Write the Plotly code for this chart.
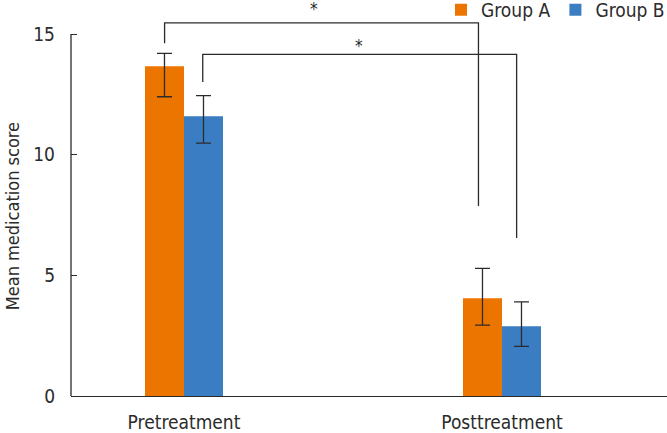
import plotly.graph_objects as go

categories = ["Pretreatment", "Posttreatment"]
group_a = [13.66, 4.05]
group_a_plus = [0.54, 1.24]
group_a_minus = [1.26, 1.11]
group_b = [11.59, 2.89]
group_b_plus = [0.86, 1.01]
group_b_minus = [1.11, 0.83]
y_ticks = [0, 5, 10, 15]
y_title = "Mean medication score"

# significance brackets: x_left, x_right, top y, left leg bottom, right leg bottom, star x, star y
brackets = [
    (-0.061, 0.926, 15.46, 14.62, 7.87, 0.409, 16.04),
    (0.059, 1.046, 14.16, 13.01, 6.55, 0.550, 14.50),
]

FONT = "DejaVu Sans Condensed, sans-serif"
INK = "#2b2b2b"
FS = 19

fig = go.Figure()
fig.add_trace(go.Bar(
    name="Group A", x=categories, y=group_a, marker_color="#ec7500", marker_line_width=0,
    error_y=dict(type="data", symmetric=False, array=group_a_plus, arrayminus=group_a_minus,
                 color=INK, thickness=1.3, width=7.5),
))
fig.add_trace(go.Bar(
    name="Group B", x=categories, y=group_b, marker_color="#3a7dc3", marker_line_width=0,
    error_y=dict(type="data", symmetric=False, array=group_b_plus, arrayminus=group_b_minus,
                 color=INK, thickness=1.3, width=7.5),
))

shapes = [dict(type="line", xref="paper", yref="y", x0=0, x1=0, y0=0, y1=15,
               line=dict(color=INK, width=1.3))]
annotations = [dict(x=0, xref="paper", xshift=-59, y=7.45, yref="y", text=y_title,
                    textangle=-90, showarrow=False, xanchor="center", yanchor="middle",
                    font=dict(size=18, color=INK, family=FONT))]
for xl, xr, yt, yl, yr, xs, ys in brackets:
    shapes.append(dict(type="path", xref="x", yref="y",
                       path=f"M {xl},{yl} L {xl},{yt} L {xr},{yt} L {xr},{yr}",
                       line=dict(color=INK, width=1.3)))
    annotations.append(dict(x=xs, y=ys, xref="x", yref="y", text="*", showarrow=False,
                            yanchor="middle", font=dict(size=17, color=INK, family=FONT)))

fig.update_layout(
    width=667, height=433,
    margin=dict(l=71, r=0, t=0, b=37, autoexpand=False),
    paper_bgcolor="white", plot_bgcolor="white",
    barmode="group", bargap=0.7547, bargroupgap=0,
    font=dict(family=FONT, size=FS, color=INK),
    showlegend=True,
    legend=dict(orientation="h", x=1.005, xanchor="right", y=1.023, yanchor="top",
                font=dict(size=FS, color=INK, family=FONT), bgcolor="rgba(0,0,0,0)"),
    xaxis=dict(range=[-0.3553, 1.5189], showline=True, linecolor=INK, linewidth=1.3,
               ticks="", showgrid=False, zeroline=False, automargin=False,
               ticklabelstandoff=9,
               tickfont=dict(size=FS, color=INK, family=FONT)),
    yaxis=dict(range=[0, 16.41], tickvals=y_ticks, ticks="inside", ticklen=6, tickwidth=1.3,
               tickcolor=INK, showline=False, showgrid=False, zeroline=False,
               ticklabelstandoff=15, automargin=False,
               tickfont=dict(size=FS, color=INK, family=FONT)),
    shapes=shapes, annotations=annotations,
)

fig.write_html("out.html", config={"displayModeBar": False},
               post_script="document.body.style.margin='0px';document.body.style.overflow='hidden';")
